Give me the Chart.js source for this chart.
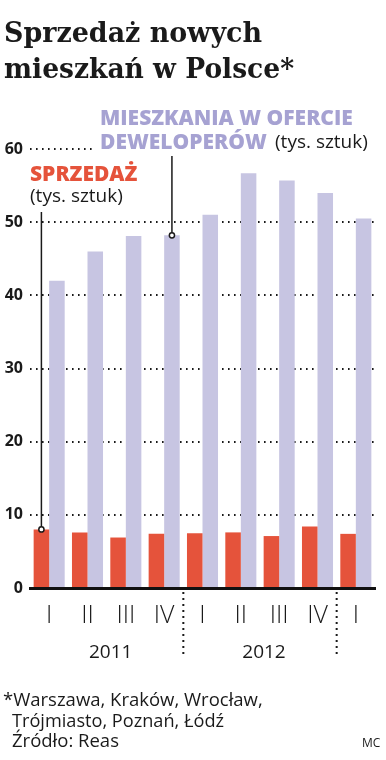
<!DOCTYPE html>
<html lang="pl">
<head>
<meta charset="UTF-8">
<title>Sprzedaż nowych mieszkań</title>
<script src="https://cdn.jsdelivr.net/npm/chart.js"></script>
<style>
  body { margin: 0; background: #fff; }
  canvas { display: block; }
</style>
</head>
<body>
<canvas id="chart" width="386" height="760"></canvas>
<script>
// kwartały i lata
const quarters = ['I', 'II', 'III', 'IV', 'I', 'II', 'III', 'IV', 'I'];
const years = ['2011', '2012'];
const yearGroups = [[0, 3], [4, 7]];
// tys. sztuk
const sales = [8.0, 7.6, 6.9, 7.4, 7.5, 7.6, 7.1, 8.4, 7.4];
const offer = [42.0, 46.0, 48.1, 48.2, 51.0, 56.7, 55.7, 54.0, 50.5];
const yTicks = [0, 10, 20, 30, 40, 50, 60];

const RED = '#e5533b';
const LILAC = '#c7c5e2';
const LILAC_TEXT = '#a6a2d2';
const SANS = '"Open Sans", "Noto Sans", sans-serif';

const extras = {
  id: 'extras',
  afterDraw(chart) {
    const ctx = chart.ctx;
    const x = chart.scales.x;
    const area = chart.chartArea;
    ctx.save();

    // tytuł
    ctx.fillStyle = '#1a1a1a';
    ctx.textBaseline = 'alphabetic';
    ctx.textAlign = 'left';
    ctx.font = 'bold 27px "DejaVu Serif", serif';
    ctx.fillText('Sprzedaż nowych', 4, 42, 258);
    ctx.fillText('mieszkań w Polsce*', 4, 78, 290);

    // opisy serii
    ctx.textBaseline = 'middle';
    ctx.fillStyle = '#fff';
    ctx.fillRect(94, 132, 282, 22);
    ctx.font = '800 21px ' + SANS;
    ctx.fillStyle = LILAC_TEXT;
    ctx.fillText('MIESZKANIA W OFERCIE', 100, 119, 254);
    ctx.fillText('DEWELOPERÓW', 100, 143, 168);
    ctx.font = '19px ' + SANS;
    ctx.fillStyle = '#1a1a1a';
    ctx.fillText('(tys. sztuk)', 275, 143, 96);

    ctx.font = '800 21px ' + SANS;
    ctx.fillStyle = RED;
    ctx.fillText('SPRZEDAŻ', 30, 175, 110);
    ctx.font = '19px ' + SANS;
    ctx.fillStyle = '#1a1a1a';
    ctx.fillText('(tys. sztuk)', 30, 197, 94);

    // linie odnośników
    const r0 = chart.getDatasetMeta(0).data[0];
    const p3 = chart.getDatasetMeta(1).data[3];
    ctx.strokeStyle = '#1a1a1a';
    ctx.lineWidth = 1.5;
    [[r0, 212], [p3, 156]].forEach(([bar, top]) => {
      ctx.beginPath();
      ctx.moveTo(bar.x, top);
      ctx.lineTo(bar.x, bar.y);
      ctx.stroke();
      ctx.beginPath();
      ctx.arc(bar.x, bar.y, 2.6, 0, Math.PI * 2);
      ctx.fillStyle = '#fff';
      ctx.fill();
      ctx.stroke();
    });

    // lata i separatory
    ctx.font = '19px ' + SANS;
    ctx.fillStyle = '#1a1a1a';
    ctx.textAlign = 'center';
    yearGroups.forEach((g, i) => {
      const cx = (x.getPixelForValue(g[0]) + x.getPixelForValue(g[1])) / 2 + 4;
      ctx.fillText(years[i], cx, 653);
      const sx = (x.getPixelForValue(g[1]) + x.getPixelForValue(g[1] + 1)) / 2;
      ctx.beginPath();
      ctx.setLineDash([2, 4]);
      ctx.lineWidth = 2;
      ctx.moveTo(sx, area.bottom + 4);
      ctx.lineTo(sx, 657);
      ctx.stroke();
      ctx.setLineDash([]);
    });

    // stopka
    ctx.textAlign = 'left';
    ctx.font = '18.5px ' + SANS;
    ctx.fillText('*Warszawa, Kraków, Wrocław,', 3, 701, 260);
    ctx.fillText('Trójmiasto, Poznań, Łódź', 12, 722, 212);
    ctx.fillText('Źródło: Reas', 12, 742, 114);
    ctx.font = '12px ' + SANS;
    ctx.fillText('MC', 362, 744);
    ctx.restore();
  }
};

new Chart(document.getElementById('chart'), {
  type: 'bar',
  data: {
    labels: quarters,
    datasets: [
      { label: 'Sprzedaż', data: sales, backgroundColor: RED },
      { label: 'Mieszkania w ofercie deweloperów', data: offer, backgroundColor: LILAC }
    ]
  },
  options: {
    responsive: false,
    animation: false,
    events: [],
    categoryPercentage: 0.81,
    barPercentage: 1.0,
    layout: { padding: { top: 149, left: 0, right: 11, bottom: 132 } },
    plugins: { legend: { display: false }, tooltip: { enabled: false } },
    scales: {
      x: {
        afterFit: s => { s.height = 40; },
        grid: { display: false, drawTicks: false },
        border: { display: true, color: '#111', width: 3 },
        ticks: {
          autoSkip: false, maxRotation: 0, padding: 13,
          color: '#1a1a1a',
          font: { family: SANS, size: 25, weight: '300' }
        }
      },
      y: {
        min: 0, max: 60,
        afterFit: s => { s.width = 30; },
        afterBuildTicks: s => { s.ticks = yTicks.map(v => ({ value: v })); },
        grid: {
          drawTicks: false,
          lineWidth: 2,
          color: c => (c.tick && c.tick.value === 0) ? 'rgba(0,0,0,0)' : '#1a1a1a'
        },
        border: { display: false, dash: [1.6, 4.4] },
        ticks: {
          padding: 7,
          color: '#1a1a1a',
          font: { family: SANS, size: 16, weight: 'bold' }
        }
      }
    }
  },
  plugins: [extras]
});
</script>
</body>
</html>
